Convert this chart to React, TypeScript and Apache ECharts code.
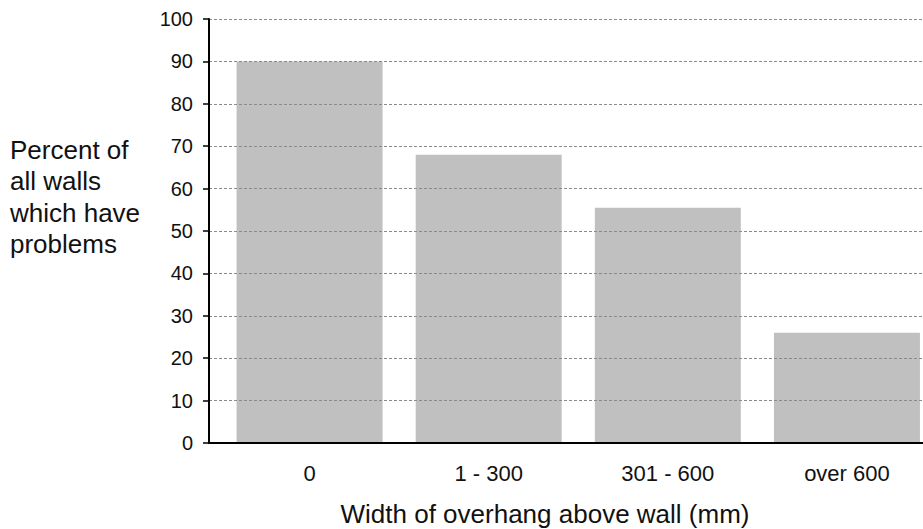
import React, { useEffect, useRef } from "react";
import * as echarts from "echarts";

const categories = ["0", "1 - 300", "301 - 600", "over 600"];
const values = [90, 68, 55.5, 26];
const yMin = 0;
const yMax = 100;
const yInterval = 10;
const yTitle = "Percent of\nall walls\nwhich have\nproblems";
const xTitle = "Width of overhang above wall (mm)";

const FONT = "'Liberation Sans', Arial, sans-serif";

export default function App() {
  const ref = useRef<HTMLDivElement>(null);
  useEffect(() => {
    if (!ref.current) return;
    const chart = echarts.init(ref.current, null, { renderer: "svg" });
    chart.setOption({
      animation: false,
      backgroundColor: "#ffffff",
      textStyle: { fontFamily: FONT },
      grid: [
        { left: 209, right: 17, top: 19, bottom: 86 },
        { left: 220, right: 3.5, top: 19, bottom: 86 },
      ],
      xAxis: [
        {
          type: "value",
          gridIndex: 0,
          min: 0,
          max: 1,
          z: 5,
          axisLine: { show: true, lineStyle: { color: "#000", width: 2 } },
          axisTick: { show: false },
          axisLabel: { show: false },
          splitLine: { show: false },
        },
        {
          type: "category",
          gridIndex: 1,
          data: categories,
          axisLine: { show: false },
          axisTick: { show: false },
          axisLabel: {
            fontSize: 22,
            color: "#111",
            fontFamily: FONT,
            margin: 19,
          },
        },
      ],
      yAxis: [
        {
          type: "value",
          gridIndex: 0,
          min: yMin,
          max: yMax,
          interval: yInterval,
          z: 5,
          axisLine: { show: true, lineStyle: { color: "#000", width: 2 } },
          axisTick: {
            show: true,
            inside: false,
            length: 6,
            lineStyle: { color: "#000", width: 1.5 },
          },
          axisLabel: {
            fontSize: 20,
            color: "#111",
            fontFamily: FONT,
            margin: 16,
          },
          splitLine: {
            show: true,
            lineStyle: { color: "#8a8a8a", width: 1, type: [3, 2] },
          },
        },
        {
          type: "value",
          gridIndex: 1,
          min: yMin,
          max: yMax,
          show: false,
          splitLine: { show: false },
        },
      ],
      graphic: [
        {
          type: "text",
          x: 10,
          y: 134,
          style: {
            text: yTitle,
            fontSize: 26,
            lineHeight: 31.5,
            fill: "#111",
            fontFamily: FONT,
            textVerticalAlign: "top",
          },
        },
        {
          type: "text",
          x: 545,
          y: 514,
          style: {
            text: xTitle,
            fontSize: 26,
            fill: "#111",
            fontFamily: FONT,
            textAlign: "center",
            textVerticalAlign: "middle",
          },
        },
      ],
      series: [
        {
          type: "bar",
          xAxisIndex: 1,
          yAxisIndex: 1,
          data: values,
          barCategoryGap: "18.5%",
          itemStyle: { color: "#c0c0c0" },
        },
      ],
    });
    return () => chart.dispose();
  }, []);
  return (
    <div
      ref={ref}
      style={{ position: "fixed", left: 0, top: 0, width: 940, height: 529 }}
    />
  );
}
